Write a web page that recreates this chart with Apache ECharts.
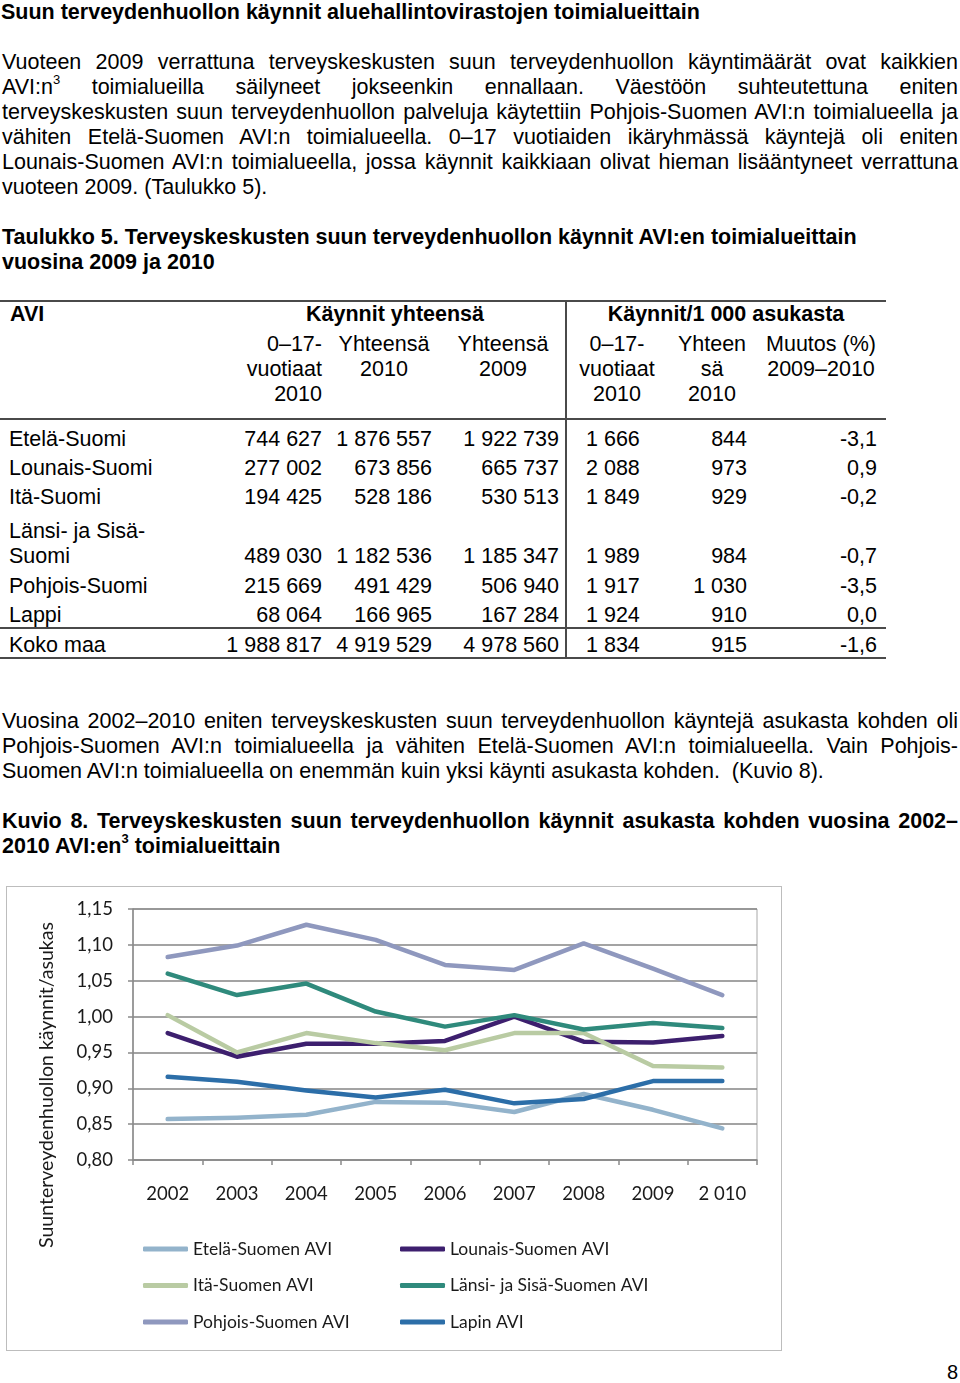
<!DOCTYPE html>
<html><head><meta charset="utf-8">
<script src="https://cdn.jsdelivr.net/npm/echarts@6/dist/echarts.min.js"></script>
<style>
html,body{margin:0;padding:0;background:#fff;}
#page{position:relative;width:960px;height:1383px;overflow:hidden;font-family:"Liberation Sans",Arial,sans-serif;color:#000;}
.t{position:absolute;white-space:nowrap;font-size:21.5px;line-height:25px;}
.b{font-weight:bold;}
.j{text-align:justify;text-align-last:justify;}
sup{font-size:13px;line-height:0;vertical-align:super;position:relative;top:-1px;}
.ln{position:absolute;background:#4a4a4a;}
#chart{position:absolute;left:6px;top:886px;width:776px;height:465px;border:1px solid #bdbdbd;box-sizing:border-box;}
</style>
</head><body><div id="page"><div id="chart"></div></div>
<script>
// ---- chart data ----
const years = ['2002','2003','2004','2005','2006','2007','2008','2009','2 010'];
const seriesNames = ['Etelä-Suomen AVI','Lounais-Suomen AVI','Itä-Suomen AVI','Länsi- ja Sisä-Suomen AVI','Pohjois-Suomen AVI','Lapin AVI'];
const etela   = [0.857,0.859,0.863,0.881,0.880,0.867,0.892,0.870,0.844];
const lounais = [0.977,0.944,0.962,0.962,0.966,1.000,0.965,0.964,0.973];
const ita     = [1.002,0.950,0.977,0.963,0.953,0.977,0.977,0.931,0.929];
const lansi   = [1.060,1.030,1.046,1.007,0.986,1.002,0.982,0.991,0.984];
const pohjois = [1.083,1.099,1.128,1.107,1.072,1.065,1.102,1.067,1.030];
const lappi   = [0.916,0.909,0.897,0.887,0.898,0.879,0.885,0.910,0.910];

// ---- table data ----
const tableRegions = ['Etelä-Suomi','Lounais-Suomi','Itä-Suomi','Länsi- ja Sisä-|Suomi','Pohjois-Suomi','Lappi','Koko maa'];
const colKids2010  = ['744 627','277 002','194 425','489 030','215 669','68 064','1 988 817'];
const colTotal2010 = ['1 876 557','673 856','528 186','1 182 536','491 429','166 965','4 919 529'];
const colTotal2009 = ['1 922 739','665 737','530 513','1 185 347','506 940','167 284','4 978 560'];
const colKidsPer   = ['1 666','2 088','1 849','1 989','1 917','1 924','1 834'];
const colTotalPer  = ['844','973','929','984','1 030','910','915'];
const colChange    = ['-3,1','0,9','-0,2','-0,7','-3,5','0,0','-1,6'];

const page = document.getElementById('page');
function txt(html, cy, opts){
  const d=document.createElement('div');
  d.className='t'+(opts.b?' b':'')+(opts.j?' j':'');
  d.innerHTML=html;
  d.style.top=(cy-12.5)+'px';
  if(opts.align){d.style.textAlign=opts.align;}
  d.style.left=opts.left+'px';
  if(opts.width){d.style.width=opts.width+'px';d.style.whiteSpace=opts.j?'normal':'nowrap';}
  if(opts.size){d.style.fontSize=opts.size+'px';}
  page.appendChild(d);
}
function line(x,y,w,h){const d=document.createElement('div');d.className='ln';d.style.left=x+'px';d.style.top=y+'px';d.style.width=w+'px';d.style.height=h+'px';page.appendChild(d);}

txt('Suun terveydenhuollon käynnit aluehallintovirastojen toimialueittain',12,{b:true,left:1});
const p1=[
 'Vuoteen 2009 verrattuna terveyskeskusten suun terveydenhuollon käyntimäärät ovat kaikkien',
 'AVI:n<sup>3</sup> toimialueilla säilyneet jokseenkin ennallaan. Väestöön suhteutettuna eniten',
 'terveyskeskusten suun terveydenhuollon palveluja käytettiin Pohjois-Suomen AVI:n toimialueella ja',
 'vähiten Etelä-Suomen AVI:n toimialueella. 0–17 vuotiaiden ikäryhmässä käyntejä oli eniten',
 'Lounais-Suomen AVI:n toimialueella, jossa käynnit kaikkiaan olivat hieman lisääntyneet verrattuna'];
p1.forEach((s,i)=>txt(s,62+25*i,{j:true,left:2,width:956}));
txt('vuoteen 2009. (Taulukko 5).',187,{left:2});
txt('Taulukko 5. Terveyskeskusten suun terveydenhuollon käynnit AVI:en toimialueittain',237,{b:true,left:2});
txt('vuosina 2009 ja 2010',262,{b:true,left:2});

// table
line(0,300,886,2); line(0,418,886,2); line(0,627,886,2); line(0,657,886,2); line(565,300,2,359);
txt('AVI',314,{b:true,left:10});
txt('Käynnit yhteensä',314,{b:true,left:295,width:200,align:'center'});
txt('Käynnit/1 000 asukasta',314,{b:true,left:596,width:260,align:'center'});
const hdr=[
 {lines:['0–17-','vuotiaat','2010'],left:200,width:122,align:'right'},
 {lines:['Yhteensä','2010'],left:324,width:120,align:'center'},
 {lines:['Yhteensä','2009'],left:443,width:120,align:'center'},
 {lines:['0–17-','vuotiaat','2010'],left:567,width:100,align:'center'},
 {lines:['Yhteen','sä','2010'],left:662,width:100,align:'center'},
 {lines:['Muutos (%)','2009–2010'],left:756,width:130,align:'center'}];
hdr.forEach(h=>h.lines.forEach((s,i)=>txt(s,344+25*i,{left:h.left,width:h.width,align:h.align})));
const rowY=[439,468,497,556,586,615,645];
const cols=[
 {d:colKids2010,left:150,width:172,align:'right'},
 {d:colTotal2010,left:322,width:110,align:'right'},
 {d:colTotal2009,left:440,width:119,align:'right'},
 {d:colKidsPer,left:586,width:100,align:'left'},
 {d:colTotalPer,left:647,width:100,align:'right'},
 {d:colChange,left:777,width:100,align:'right'}];
tableRegions.forEach((r,i)=>{
  const parts=r.split('|');
  if(parts.length===2){txt(parts[0],531,{left:9});txt(parts[1],556,{left:9});}
  else txt(r,rowY[i],{left:9});
  cols.forEach(c=>txt(c.d[i],rowY[i],{left:c.left,width:c.width,align:c.align}));
});

txt('Vuosina 2002–2010 eniten terveyskeskusten suun terveydenhuollon käyntejä asukasta kohden oli',721,{j:true,left:2,width:956});
txt('Pohjois-Suomen AVI:n toimialueella ja vähiten Etelä-Suomen AVI:n toimialueella. Vain Pohjois-',746,{j:true,left:2,width:956});
txt('Suomen AVI:n toimialueella on enemmän kuin yksi käynti asukasta kohden.&nbsp; (Kuvio 8).',771,{left:2});
txt('Kuvio 8. Terveyskeskusten suun terveydenhuollon käynnit asukasta kohden vuosina 2002–',821,{b:true,j:true,left:2,width:956});
txt('2010 AVI:en<sup>3</sup> toimialueittain',846,{b:true,left:2});
txt('8',1372,{left:900,width:58,align:'right',size:20});

// ---- chart ----
const colors=['#93b3cb','#3d1f6e','#b9cba3','#2f8a7c','#8f98be','#2c6ea8'];
const dataSets=[etela,lounais,ita,lansi,pohjois,lappi];
const chart=echarts.init(document.getElementById('chart'),null,{renderer:'canvas'});
const FONT='Lato';
const legendCommon={orient:'vertical',icon:'roundRect',itemWidth:45,itemHeight:5,itemGap:16.5,padding:0,
  textStyle:{fontFamily:FONT,fontSize:17.5,color:'#1a1a1a',lineHeight:20},selectedMode:false};
chart.setOption({
  animation:false,
  color:colors,
  grid:{left:126,top:22,width:624,height:251,show:true,borderColor:'#a8a8a8',borderWidth:1,backgroundColor:'transparent'},
  legend:[
    Object.assign({left:136,top:352,data:[seriesNames[0],seriesNames[2],seriesNames[4]]},legendCommon),
    Object.assign({left:393,top:352,data:[seriesNames[1],seriesNames[3],seriesNames[5]]},legendCommon)
  ],
  xAxis:{type:'category',data:years,boundaryGap:true,
    axisLine:{lineStyle:{color:'#8a8a8a',width:1.5}},
    axisTick:{show:true,length:5,interval:0,lineStyle:{color:'#8a8a8a',width:1.5}},
    axisLabel:{margin:25,fontFamily:FONT,fontSize:18.5,color:'#1a1a1a',interval:0}},
  yAxis:{type:'value',min:0.8,max:1.15,interval:0.05,
    axisLine:{show:true,lineStyle:{color:'#8a8a8a',width:1.5}},
    axisTick:{show:true,length:5,lineStyle:{color:'#8a8a8a',width:1.5}},
    splitLine:{lineStyle:{color:'#858585',width:1.5}},
    axisLabel:{margin:20,fontFamily:FONT,fontSize:18.5,color:'#1a1a1a',formatter:v=>v.toFixed(2).replace('.',',')}},
  graphic:[{type:'text',x:40,y:198,rotation:Math.PI/2,
    style:{text:'Suunterveydenhuollon käynnit/asukas',fontFamily:FONT,fontSize:19.5,fill:'#1a1a1a',align:'center',verticalAlign:'middle'}}],
  series:seriesNames.map((n,i)=>({name:n,type:'line',data:dataSets[i],showSymbol:false,symbol:'none',
    lineStyle:{width:4.5,color:colors[i],cap:'round',join:'round'},itemStyle:{color:colors[i]}}))
});
</script></body></html>
